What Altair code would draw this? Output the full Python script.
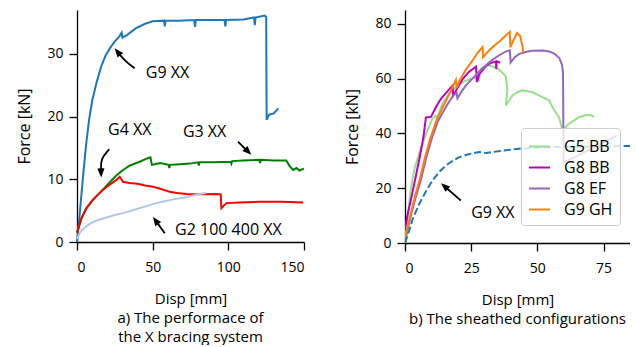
import math
import altair as alt
import pandas as pd

FONT = "Open Sans"

# ---------- a) X bracing system ----------
g9xx_disp = [0, 2, 4, 6, 8, 10, 13, 16, 19, 22, 25, 28, 29.5, 30, 33, 39, 45, 50,
             57.5, 58, 58.5, 67, 77.5, 78, 78.5, 88, 97.5, 98, 98.5, 110, 117, 117.5,
             118, 124, 125, 125.3, 127, 130, 133]
g9xx_force = [0, 5, 10.5, 15.5, 19.5, 22.5, 25.5, 28.0, 29.8, 31, 32, 32.8, 33.4, 32.6,
              33, 34.1, 34.8, 35.2, 35.3, 34.4, 35.3, 35.3, 35.4, 34.3, 35.4, 35.4, 35.4,
              34.4, 35.4, 35.5, 35.8, 34.6, 35.8, 36.1, 35.9, 19.5, 20.3, 20.5, 21.3]

g3xx_disp = [0, 3, 6, 10, 14, 18, 22, 26, 30, 35, 41.4, 46, 48.5, 49.5, 51.3, 55, 60.5,
             61, 61.5, 68, 74.5, 80, 80.5, 81, 90, 101.5, 102, 102.5, 110, 120.5, 121,
             121.5, 130, 138.3, 140.5, 142.8, 145, 147, 150]
g3xx_force = [1.5, 3.8, 5.3, 6.6, 7.6, 8.6, 9.6, 10.6, 11.4, 12.2, 12.8, 13.3, 13.5, 12.3,
              12.4, 12.6, 12.3, 11.8, 12.3, 12.4, 12.5, 12.7, 12.2, 12.7, 12.7, 12.8, 12.5,
              12.9, 13.0, 13.1, 12.6, 13.1, 13.0, 13.0, 12.1, 11.5, 11.8, 11.4, 11.7]

g4xx_disp = [0, 3, 6, 10, 14, 18, 22, 26, 28.2, 30.4, 34.8, 40, 45, 50.2, 55, 61.3, 66,
             72.3, 80, 92.1, 95, 95.4, 98.7, 107.5, 120.7, 135, 149.4]
g4xx_force = [1.5, 3.8, 5.3, 6.6, 7.6, 8.5, 9.2, 9.9, 10.4, 9.6, 9.4, 9.3, 9.0, 8.8, 8.5,
              8.0, 7.8, 7.65, 7.6, 7.65, 7.6, 5.4, 6.2, 6.3, 6.4, 6.4, 6.3]

g2_disp = [0, 2, 5, 9, 14, 19.4, 25, 30.4, 36, 41.4, 47, 52.4, 58, 63.4, 69, 74.5, 80, 85.5]
g2_force = [0.5, 1.5, 2.3, 3.0, 3.5, 3.9, 4.3, 4.6, 5.0, 5.4, 5.8, 6.2, 6.5, 6.8, 7.0,
            7.3, 7.6, 7.8]

left_notes = ["G9 XX", "G4 XX", "G3 XX", "G2 100 400 XX"]
left_note_x = [45.5, 20.5, 70, 64.8]
left_note_y = [26.9, 17.9, 17.5, 1.9]
# arrow paths: tail -> bend -> head
left_arrow_tail = [(38.1, 27.7), (21.3, 14.8), (106.4, 16.0), (58.0, 1.4)]
left_arrow_bend = [(31.2, 29.0), (15.6, 13.3), (110.8, 14.95), (54.1, 2.7)]
left_arrow_head = [(24.9, 30.9), (16.0, 10.3), (115.2, 13.9), (50.2, 4.0)]

# ---------- b) sheathed configurations ----------
g5bb_disp = [0, 1, 2, 3, 4, 5.5, 8, 10.4, 11.5, 12, 14, 16, 18, 20, 22, 24.5, 26.5, 28,
             28.6, 30, 31.8, 33.5, 35.6, 38.1, 38.7, 38.1, 40.6, 42.5, 44.4, 48.2, 51.9,
             54.5, 55.7, 57, 58.2, 59, 59.8, 61, 63, 65.8, 68, 69.5, 71, 71.4]
g5bb_force = [0, 9, 18, 24.5, 28.5, 33, 40, 45.5, 46.3, 45.5, 50.5, 53.5, 55.8, 57.5,
              58.8, 59.8, 60.2, 59.3, 63.6, 64.3, 64.8, 64.2, 63.3, 60.8, 56, 50.2, 53.8,
              55, 55.7, 55, 53.2, 52, 49.6, 47.5, 45.9, 42.9, 40.5, 42.8, 44.2, 45.9,
              46.6, 46.8, 46.3, 45.8]

g8bb_disp = [0, 1, 2.5, 4, 5.5, 7, 7.9, 9.8, 11.7, 13.5, 15.5, 18, 18.2, 19.5, 21.7, 24,
             26.8, 27.2, 28, 30.6, 32.5, 34.3, 34.5, 34.6, 36.0]
g8bb_force = [5, 10.5, 17, 24, 31, 39, 45.8, 46, 49.6, 52.5, 54.8, 57.5, 53.8, 56, 59.7,
              62.3, 64.3, 58.7, 61.5, 64.6, 65.7, 66.2, 63.5, 66.3, 65.7]

g8ef_disp = [0, 1, 2.5, 4, 6, 8, 10.4, 12.5, 14.2, 16, 18, 19.5, 19.8, 21.5, 23, 26, 28,
             30.6, 33, 35.6, 38, 39.6, 39.9, 41.5, 43.1, 46, 48.2, 52, 54.5, 56.5, 58.3,
             59.3, 59.7, 59.9, 65, 70, 75, 80]
g8ef_force = [0, 5, 11, 16.5, 23, 31, 39, 44.5, 47.5, 50.5, 53.5, 54.8, 52.8, 55.5, 57.5,
              60.5, 62.5, 64.8, 66.8, 68.5, 69.8, 70.3, 65.8, 67.8, 69, 69.8, 70.1, 70.2,
              69.9, 69, 67.5, 65, 62, 29.5, 31.7, 34.2, 36.6, 39.2]

g9gh_disp = [0, 1, 2.5, 4, 5.5, 7.5, 9.5, 12, 14.5, 17, 19.2, 19.5, 20.5, 23, 25.5, 27.5,
             29.3, 29.5, 31, 33.1, 36, 38.1, 39.6, 39.8, 41, 42.3, 43.5, 44.3, 44.8]
g9gh_force = [0, 6, 12, 18, 23, 31, 38, 45, 50, 55, 59.5, 56.5, 59, 63.3, 66.6, 69.5,
              71.5, 67.8, 69.5, 71.5, 73.8, 75.8, 77, 71.4, 74, 76.6, 75.5, 72, 69]

g9xx_b_disp = [0, 1.6, 3, 5.4, 8, 10.4, 13, 15.5, 18, 20.5, 24, 28, 30.6, 36, 43, 50,
               55.7, 68, 85]
g9xx_b_force = [0, 4.6, 9, 14.3, 19, 22.8, 26, 28.3, 30, 31.3, 32.4, 33.2, 32.8, 33.6,
                34.4, 34.8, 35, 35.2, 35.4]

right_series = ["G5 BB", "G8 BB", "G8 EF", "G9 GH"]
right_colors = ["#98df8a", "#bf00bf", "#9467bd", "#ff7f0e"]

right_notes = ["G9 XX"]
right_note_x = [25.0]
right_note_y = [11.1]
right_arrow_tail = [(21.1, 15.5)]
right_arrow_bend = [(17.35, 18.65)]
right_arrow_head = [(13.6, 21.8)]

LEFT_W, LEFT_H = 227, 232
LEFT_XDOM, LEFT_YDOM = [0, 150], [0, 37]
RIGHT_W, RIGHT_H = 225, 233
RIGHT_XDOM, RIGHT_YDOM = [0, 85], [0, 85]

TICK_FS, TEXT_FS, CAP_FS = 14, 16, 15


def frame(name, xs, ys):
    return pd.DataFrame({"series": name, "disp": xs, "force": ys, "i": range(len(xs))})


def axes(xdom, ydom, xticks, yticks):
    x = alt.X("disp:Q", scale=alt.Scale(domain=xdom, nice=False, zero=False),
              axis=alt.Axis(values=xticks, title="Disp [mm]"))
    y = alt.Y("force:Q", scale=alt.Scale(domain=ydom, nice=False, zero=False),
              axis=alt.Axis(values=yticks, title="Force [kN]"))
    return x, y


def arrows(tails, bends, heads, xdom, ydom, w, h, x, y):
    kx = w / (xdom[1] - xdom[0])
    ky = h / (ydom[1] - ydom[0])
    path_rows, head_rows = [], []
    for k, (t, b, hd) in enumerate(zip(tails, bends, heads)):
        dxp = (hd[0] - b[0]) * kx
        dyp = -(hd[1] - b[1]) * ky
        n = math.hypot(dxp, dyp)
        end = (hd[0] - dxp / n * 6 / kx, hd[1] + dyp / n * 6 / ky)
        for i, p in enumerate([t, b, end]):
            path_rows.append({"arrow": k, "i": i, "disp": p[0], "force": p[1]})
        ang = math.degrees(math.atan2(dxp, -dyp)) % 360
        head_rows.append({"disp": hd[0], "force": hd[1], "angle": ang})
    shafts = alt.Chart(pd.DataFrame(path_rows)).mark_line(
        color="black", strokeWidth=1.8, interpolate="basis"
    ).encode(x=x, y=y, detail="arrow:N", order="i:Q")
    tips = alt.Chart(pd.DataFrame(head_rows)).mark_point(
        shape="M0,0 L-0.8,2 L0.8,2 Z", filled=True, color="black", opacity=1,
        size=81, strokeWidth=0
    ).encode(x=x, y=y, angle=alt.Angle("angle:Q", scale=None))
    return shafts + tips


def notes(texts, xs, ys, x, y):
    df = pd.DataFrame({"label": texts, "disp": xs, "force": ys})
    return alt.Chart(df).mark_text(
        align="left", baseline="middle", font=FONT, fontSize=TEXT_FS, color="black"
    ).encode(x=x, y=y, text="label:N")


def caption(lines):
    return alt.TitleParams(text=lines, orient="bottom", anchor="middle", frame="group",
                           font=FONT, fontSize=CAP_FS, fontWeight="normal", color="black",
                           lineHeight=19, offset=5)


# left panel
lx, ly = axes(LEFT_XDOM, LEFT_YDOM, [0, 50, 100, 150], [0, 10, 20, 30])
left_layers = []
for name, xs, ys, col in [("G9 XX", g9xx_disp, g9xx_force, "#1f77b4"),
                          ("G3 XX", g3xx_disp, g3xx_force, "#008000"),
                          ("G4 XX", g4xx_disp, g4xx_force, "#ff0000"),
                          ("G2 100 400 XX", g2_disp, g2_force, "#aec7e8")]:
    left_layers.append(
        alt.Chart(frame(name, xs, ys)).mark_line(color=col, strokeWidth=2)
        .encode(x=lx, y=ly, order="i:Q")
    )
left = alt.layer(
    *left_layers,
    arrows(left_arrow_tail, left_arrow_bend, left_arrow_head, LEFT_XDOM, LEFT_YDOM,
           LEFT_W, LEFT_H, lx, ly),
    notes(left_notes, left_note_x, left_note_y, lx, ly),
).properties(width=LEFT_W, height=LEFT_H,
             title=caption(["a) The performace of", "the X bracing system"]))

# right panel
rx, ry = axes(RIGHT_XDOM, RIGHT_YDOM, [0, 25, 50, 75], [0, 20, 40, 60, 80])
legend = alt.Legend(
    orient="none", legendX=116, legendY=118, title=None,
    symbolType="stroke", symbolStrokeWidth=2, symbolSize=441,
    labelFont=FONT, labelFontSize=TEXT_FS, labelColor="black", labelOffset=13,
    padding=7, rowPadding=1,
    fillColor="rgba(255,255,255,0.8)", strokeColor="#cccccc", cornerRadius=3,
)
color = alt.Color("series:N", scale=alt.Scale(domain=right_series, range=right_colors),
                  legend=legend)
right_layers = []
for name, xs, ys in [("G5 BB", g5bb_disp, g5bb_force),
                     ("G8 BB", g8bb_disp, g8bb_force),
                     ("G8 EF", g8ef_disp, g8ef_force),
                     ("G9 GH", g9gh_disp, g9gh_force)]:
    right_layers.append(
        alt.Chart(frame(name, xs, ys)).mark_line(strokeWidth=2, clip=True)
        .encode(x=rx, y=ry, order="i:Q", color=color)
    )
dashed = alt.Chart(frame("G9 XX", g9xx_b_disp, g9xx_b_force)).mark_line(
    color="#1f77b4", strokeWidth=2, strokeDash=[7, 3], clip=True
).encode(x=rx, y=ry, order="i:Q")
right = alt.layer(
    *right_layers, dashed,
    arrows(right_arrow_tail, right_arrow_bend, right_arrow_head, RIGHT_XDOM, RIGHT_YDOM,
           RIGHT_W, RIGHT_H, rx, ry),
    notes(right_notes, right_note_x, right_note_y, rx, ry),
).properties(width=RIGHT_W, height=RIGHT_H,
             title=caption(["b) The sheathed configurations"]))

chart = alt.hconcat(left, right, spacing=36).resolve_legend(
    color="independent"
).properties(
    padding={"left": 16, "top": 10, "right": 0, "bottom": 0}
).configure_view(stroke=None).configure_axis(
    grid=False, domainColor="black", tickColor="black", domainWidth=1.3, tickWidth=1.3,
    tickSize=8, labelFont=FONT, titleFont=FONT, labelFontSize=TICK_FS,
    titleFontSize=TEXT_FS, titleFontWeight="normal", labelColor="black",
    titleColor="black",
).configure_axisX(labelPadding=10, titlePadding=17, titleFontSize=CAP_FS).configure_axisY(
    labelPadding=6, titlePadding=14
)

chart.save("out.html", embed_options={"renderer": "svg", "actions": False})
